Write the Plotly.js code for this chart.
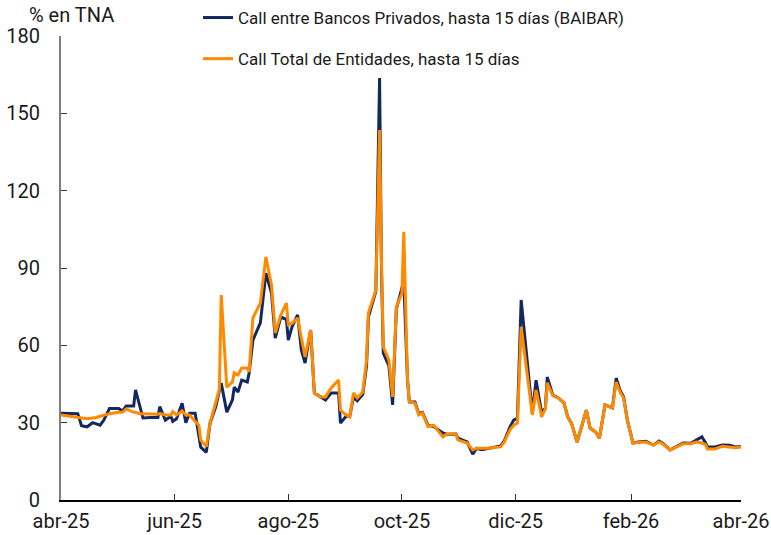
<!DOCTYPE html>
<html>
<head>
<meta charset="utf-8">
<script src="https://cdn.plot.ly/plotly-3.0.1.min.js"></script>
<style>html,body{margin:0;padding:0;background:#fff;}#chart{width:771px;height:535px;}</style>
</head>
<body>
<div id="chart"></div>
<script>
const dates = ["2025-04-01","2025-04-06","2025-04-10","2025-04-12","2025-04-15","2025-04-18","2025-04-20","2025-04-22","2025-04-24","2025-04-27",
"2025-05-02","2025-05-04","2025-05-06","2025-05-10","2025-05-11","2025-05-13","2025-05-15","2025-05-19","2025-05-23","2025-05-24",
"2025-05-27","2025-05-30","2025-05-31","2025-06-02","2025-06-05","2025-06-07","2025-06-09","2025-06-12","2025-06-14","2025-06-15",
"2025-06-18","2025-06-20","2025-06-23","2025-06-25","2025-06-26","2025-06-29","2025-07-02","2025-07-03","2025-07-05","2025-07-07",
"2025-07-10","2025-07-11","2025-07-13","2025-07-17","2025-07-20","2025-07-23","2025-07-25","2025-07-28","2025-07-31","2025-08-01",
"2025-08-03","2025-08-06","2025-08-08","2025-08-10","2025-08-13","2025-08-15","2025-08-18","2025-08-21","2025-08-24","2025-08-28",
"2025-08-29","2025-09-01","2025-09-03","2025-09-05","2025-09-07","2025-09-10","2025-09-12","2025-09-13","2025-09-17","2025-09-18",
"2025-09-19","2025-09-20","2025-09-21","2025-09-24","2025-09-26","2025-09-28","2025-10-01","2025-10-02","2025-10-04","2025-10-05",
"2025-10-08","2025-10-10","2025-10-12","2025-10-15","2025-10-18","2025-10-20","2025-10-23","2025-10-25","2025-10-30","2025-10-31",
"2025-11-05","2025-11-08","2025-11-10","2025-11-13","2025-11-17","2025-11-20","2025-11-23","2025-11-25","2025-11-28","2025-11-30",
"2025-12-02","2025-12-04","2025-12-07","2025-12-10","2025-12-12","2025-12-15","2025-12-17","2025-12-18","2025-12-21","2025-12-24",
"2025-12-27","2025-12-29","2025-12-31","2026-01-03","2026-01-06","2026-01-08","2026-01-10","2026-01-13","2026-01-15","2026-01-18",
"2026-01-22","2026-01-24","2026-01-26","2026-01-28","2026-01-30","2026-02-02","2026-02-05","2026-02-09","2026-02-13","2026-02-16",
"2026-02-18","2026-02-22","2026-02-26","2026-03-01","2026-03-05","2026-03-08","2026-03-11","2026-03-13","2026-03-14","2026-03-18",
"2026-03-22","2026-03-26","2026-03-29","2026-04-01"];

const baibar = [33.7,33.5,33.5,28.8,28.4,30.0,29.5,29.0,31.0,35.5,
35.5,34.5,36.5,36.5,42.7,37.0,31.8,32.0,32.0,36.2,
31.0,32.5,30.5,31.5,37.5,30.0,33.7,33.7,24.5,20.5,
18.5,29.8,36.0,42.7,45.4,34.1,38.8,43.8,41.9,46.5,
45.8,49.3,62.0,68.7,88.0,80.2,62.8,71.0,70.0,62.0,
67.2,71.8,58.2,53.1,65.9,41.5,40.0,38.8,41.5,41.5,
29.8,32.5,32.5,40.0,38.5,41.0,52.0,71.0,81.0,120.0,
163.7,90.0,57.0,52.0,36.9,74.0,82.0,85.0,46.5,38.0,
38.0,33.5,34.0,29.0,28.5,27.6,26.0,25.5,25.6,24.0,
22.5,17.8,20.0,19.5,20.2,20.6,21.0,23.0,28.4,31.0,
31.8,77.6,55.5,33.7,46.5,33.7,35.7,47.7,40.7,39.6,
37.6,32.2,29.8,22.5,29.8,34.9,27.9,26.4,24.0,36.9,
35.7,47.3,42.7,40.0,31.0,22.1,22.5,22.8,21.3,22.9,
22.0,19.4,21.0,22.1,22.0,23.3,24.5,22.1,20.6,20.6,
21.3,21.2,20.6,20.8];

const total = [33.0,32.5,32.0,31.8,31.5,31.8,32.0,32.5,33.0,33.5,
34.0,34.0,35.3,34.0,34.0,33.5,33.5,33.3,33.3,33.5,
33.0,33.0,34.3,33.0,34.5,33.0,33.0,30.5,29.0,23.3,
20.7,29.8,38.0,43.0,79.5,43.8,45.8,49.3,48.5,51.2,
51.2,49.7,70.6,76.4,94.3,83.4,64.8,71.8,76.4,68.0,
68.5,70.6,63.0,55.5,65.9,41.5,40.0,40.0,43.5,46.5,
34.9,33.0,32.2,41.5,39.6,41.9,54.3,72.5,81.5,119.0,
143.5,93.0,59.4,54.3,40.0,74.9,80.2,104.0,46.5,38.0,
37.6,33.0,33.7,28.5,29.0,27.2,24.5,25.6,25.6,23.3,
22.1,19.4,20.1,20.1,20.1,20.5,20.6,22.5,27.2,29.0,
29.8,67.2,50.4,33.0,42.7,32.2,35.5,45.4,40.5,39.6,
37.6,32.2,29.8,22.5,29.8,34.9,27.9,26.4,24.0,36.9,
35.7,45.8,42.0,39.5,31.0,22.1,22.3,22.5,21.3,22.5,
21.8,19.4,20.8,21.8,21.8,22.5,22.1,21.5,19.8,19.8,
20.8,20.5,20.3,20.6];

const tickDates = ["2025-04-01","2025-06-01","2025-08-01","2025-10-01","2025-12-01","2026-02-01","2026-04-01"];
const tickLabels = ["abr-25","jun-25","ago-25","oct-25","dic-25","feb-26","abr-26"];
const yTicks = [0,30,60,90,120,150,180];

const seriesNames = ["Call entre Bancos Privados, hasta 15 días (BAIBAR)","Call Total de Entidades, hasta 15 días"];

const traces = [
  {x: dates, y: baibar, type: "scatter", mode: "lines", name: seriesNames[0], legendgroup: "a",
   line: {color: "#13285f", width: 3}},
  {x: dates, y: total, type: "scatter", mode: "lines", name: seriesNames[1], legendgroup: "b",
   line: {color: "#ff8a00", width: 3}}
];

const layout = {
  width: 771, height: 535,
  margin: {l: 61, r: 30, t: 0, b: 35},
  paper_bgcolor: "#fff", plot_bgcolor: "#fff",
  font: {family: "Roboto, sans-serif", size: 20, color: "#1a1a1a"},
  showlegend: true,
  legend: {x: 0.2015, xanchor: "left", y: 1.0, yanchor: "top", bgcolor: "rgba(0,0,0,0)",
           font: {size: 17, color: "#1a1a1a"}, tracegroupgap: 16},
  xaxis: {type: "date", range: ["2025-04-01","2026-04-01"], tickmode: "array", tickvals: tickDates, ticktext: tickLabels,
          showgrid: false, zeroline: false, showline: true, linecolor: "#000", linewidth: 1.5,
          ticks: "inside", ticklen: 6, tickcolor: "#333", tickwidth: 1, ticklabelstandoff: 2, tickfont: {size: 20}},
  yaxis: {domain: [0, 0.928], range: [0, 180], tickmode: "array", tickvals: yTicks, showgrid: false, zeroline: false,
          showline: true, linecolor: "#7f7f7f", linewidth: 2, ticks: "inside", ticklen: 6, tickcolor: "#333",
          ticklabelstandoff: 15, tickfont: {size: 20}},
  annotations: [{text: "% en TNA", xref: "paper", yref: "paper", x: -0.05, y: 0.97, xanchor: "left", yanchor: "middle",
                 showarrow: false, font: {size: 20, color: "#1a1a1a"}}]
};

Plotly.newPlot("chart", traces, layout, {displayModeBar: false, staticPlot: true});
</script>
</body>
</html>
